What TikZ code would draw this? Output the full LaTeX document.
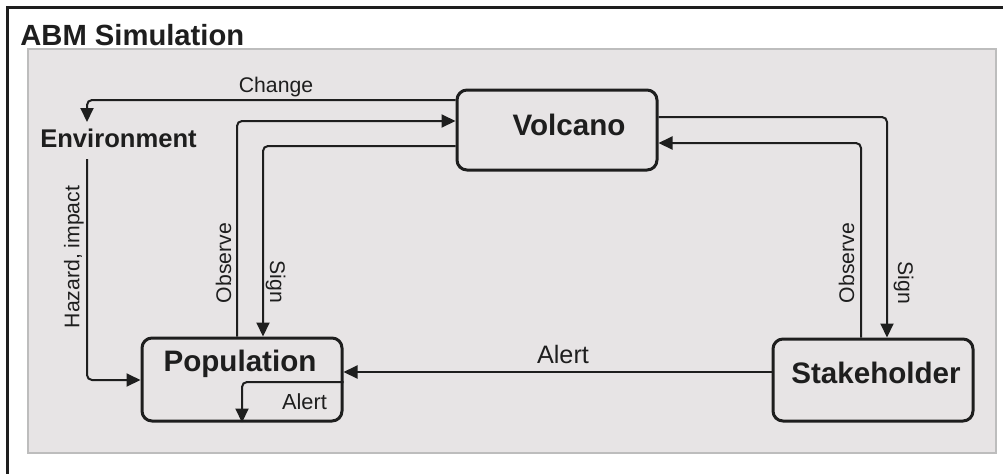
\documentclass[tikz,border=0pt]{standalone}
\usepackage{fontspec}
\setmainfont{Liberation Sans}
\usetikzlibrary{arrows.meta}
\definecolor{ink}{HTML}{1E1E1E}
\definecolor{panelfill}{HTML}{E7E4E5}
\definecolor{panelline}{HTML}{BDBDBD}
\tikzset{
  box/.style={draw=ink, line width=1.5pt, rounded corners=5pt, minimum width=100pt, inner sep=0pt},
  boxtext/.style={font=\bfseries\fontsize{14.8}{16}\selectfont, text=ink, anchor=base, inner sep=0pt},
  conn/.style={draw=ink, line width=1pt, rounded corners=2.5pt},
  arr/.style={conn, -{Triangle[length=7pt,width=6.5pt]}},
  lbl/.style={font=\fontsize{10.6}{12}\selectfont, text=ink, inner sep=0pt},
}
\begin{document}
\begin{tikzpicture}[x=0.5pt,y=-0.5pt]
\useasboundingbox (0,0) rectangle (1003,473);
\clip (0,0) rectangle (1003,473);

% outer frame and grey simulation panel
\draw[ink, line width=1.5pt] (7,7) rectangle (1020,490);
\fill[panelfill] (28,49) rectangle (996,453);
\draw[panelline, line width=0.6pt] (28,49) rectangle (996,453);
\node[font=\bfseries\fontsize{14.6}{16}\selectfont, text=ink, anchor=base west, inner sep=0pt]
  (title) at (20,45) {ABM Simulation};

% agent boxes
\node[box, minimum height=40pt] (volcano) at (557,130) {};
\node[box, minimum height=41.5pt] (pop) at (242,379.5) {};
\node[box, minimum height=41pt] (stake) at (873,380) {};
\node[boxtext] (volcanotxt) at (569,135) {Volcano};
\node[boxtext] (poptxt) at (240,371) {Population};
\node[boxtext] (staketxt) at (876,383) {Stakeholder};
\node[font=\bfseries\fontsize{12.8}{14}\selectfont, text=ink, anchor=base, inner sep=0pt]
  (env) at (118.5,147) {Environment};

% free ends at the environment label
\coordinate (envin) at (87,122);
\coordinate (envout) at (87,159);

% volcano -> environment
\draw[arr] (volcano.west |- 0,100) -| (envin);
\node[lbl, anchor=base] (change) at (276,92) {Change};

% environment -> population
\draw[arr] (envout) |- (pop.west |- 0,380);
\node[lbl, rotate=90] (hazard) at (74,257) {Hazard, impact};

% population <-> volcano
\draw[arr] (pop.north -| 237,0) |- (volcano.west |- 0,121);
\node[lbl, rotate=90] (obspop) at (223.5,263) {Observe};
\draw[arr] (volcano.west |- 0,146) -| (pop.north -| 263,0);
\node[lbl, rotate=-90] (signpop) at (275.5,282) {Sign};

% volcano <-> stakeholder
\draw[arr] (volcano.east |- 0,117) -| (stake.north -| 887,0);
\node[lbl, rotate=-90] (signstake) at (903.5,283) {Sign};
\draw[arr] (stake.north -| 861,0) |- (volcano.east |- 0,143);
\node[lbl, rotate=90] (obsstake) at (846.5,263) {Observe};

% stakeholder -> population
\draw[arr] (stake.west |- 0,372) -- (pop.east |- 0,372);
\node[font=\fontsize{12.6}{14}\selectfont, text=ink, anchor=base, inner sep=0pt]
  (alert) at (563,363) {Alert};

% alert passed on inside the population
\draw[arr] (pop.east |- 0,382) -| (pop.south -| 242,0);
\node[font=\fontsize{10.9}{12}\selectfont, text=ink, anchor=base, inner sep=0pt]
  (alertin) at (304.5,409) {Alert};
\end{tikzpicture}
\end{document}
